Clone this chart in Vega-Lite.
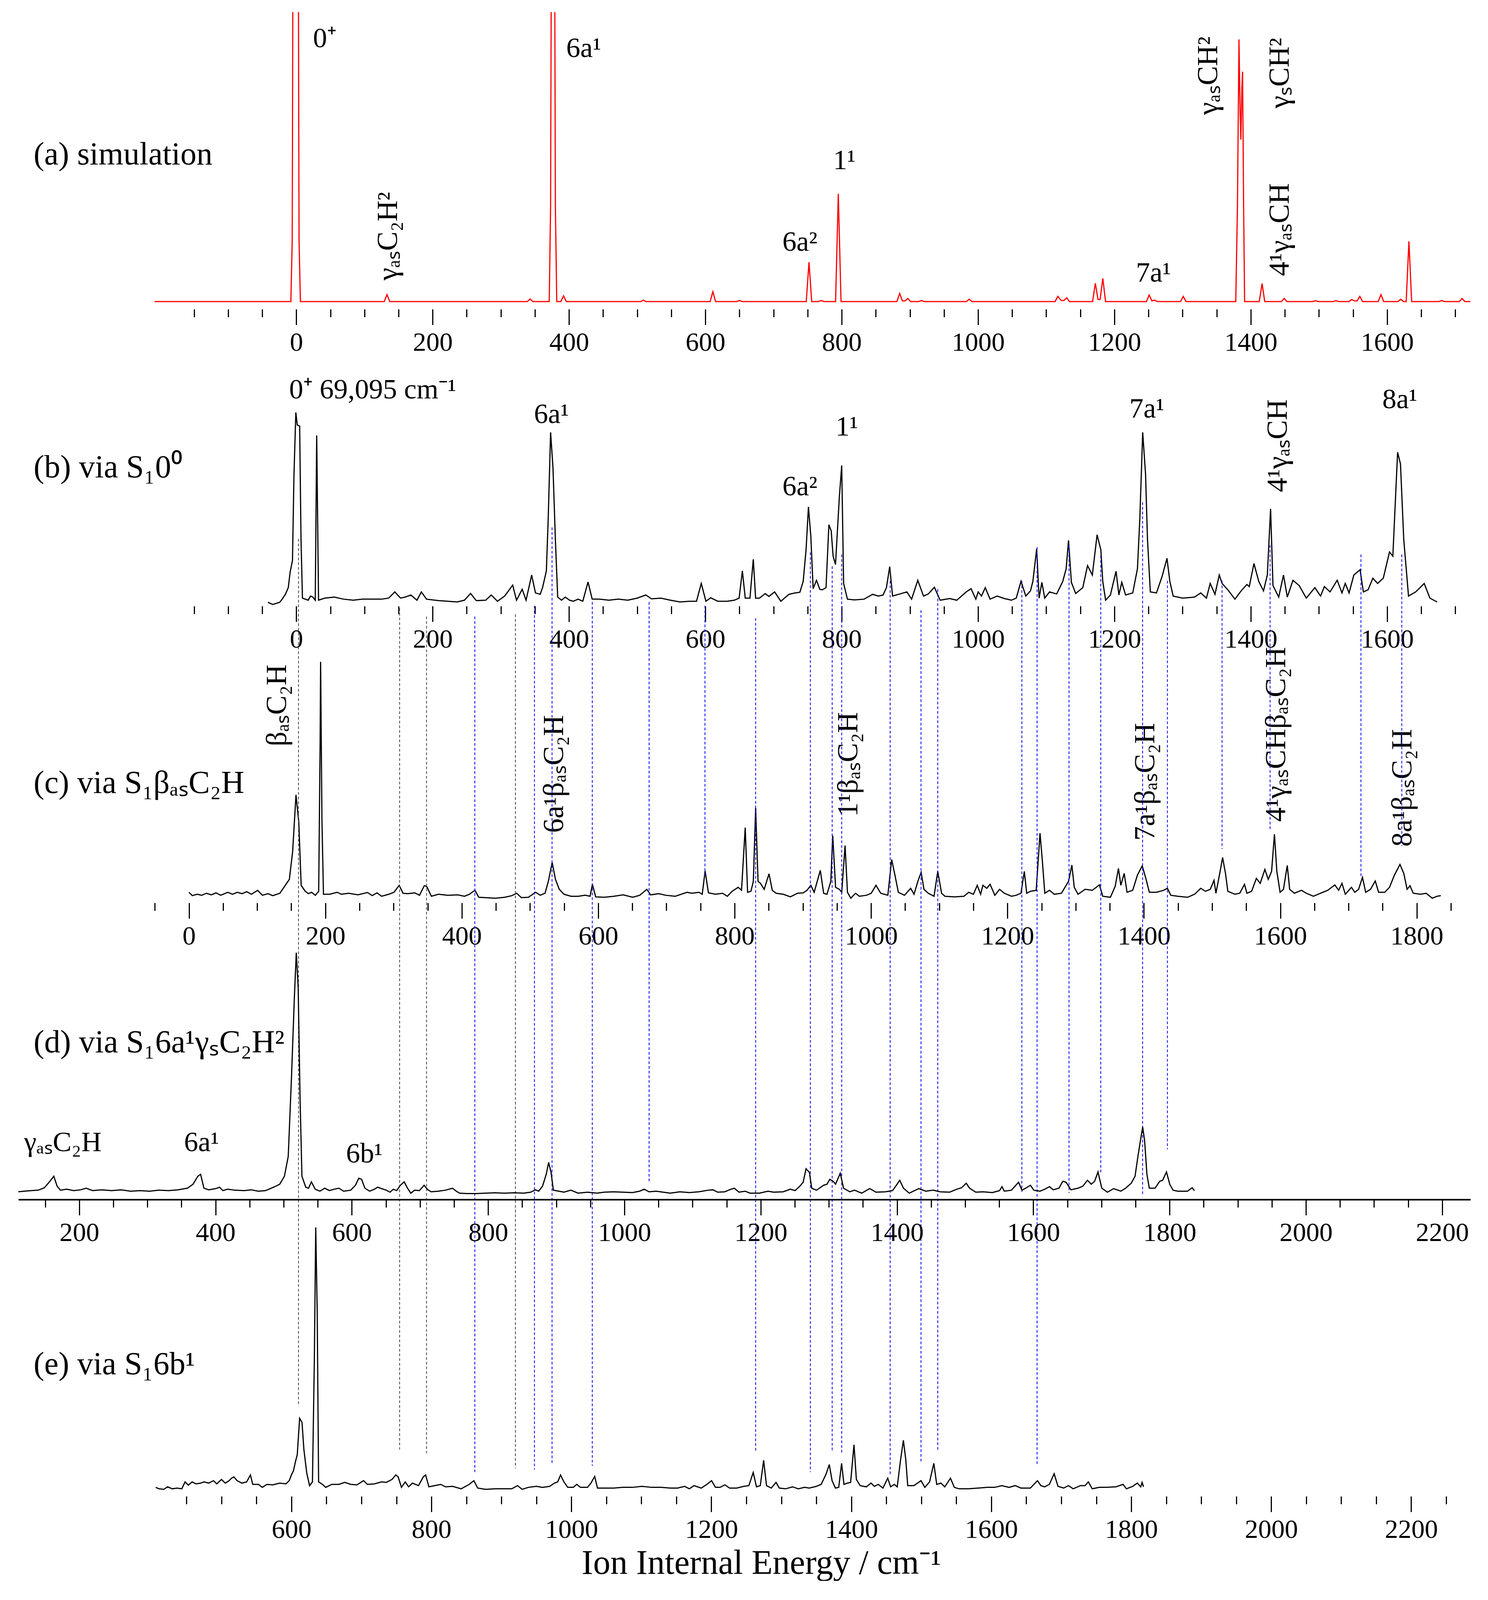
{
  "$schema": "https://vega.github.io/schema/vega-lite/v6.json",
  "padding": {"left": 40, "top": 31, "right": 52, "bottom": 0},
  "background": "white",
  "bounds": "flush",
  "spacing": 88.6,
  "config": {
    "view": {"stroke": null},
    "font": "Liberation Serif",
    "text": {"font": "Liberation Serif", "color": "black"},
    "axis": {
      "labelFont": "Liberation Serif", "labelFontSize": 68, "labelColor": "black", "labelPadding": 12,
      "labelFlush": false, "labelOverlap": false,
      "tickColor": "black", "tickWidth": 3, "domainColor": "black", "domainWidth": 4, "grid": false,
      "titleFont": "Liberation Serif", "titleFontSize": 88, "titleFontWeight": "normal", "titleColor": "black"
    }
  },
  "datasets": {
    "sim": [
      {"e":-208,"h":22},{"e":-8,"h":22},{"e":-6,"h":200},{"e":-5,"h":1000},{"e":-1,"h":3000},{"e":3,"h":1000},{"e":4,"h":200},{"e":6,"h":22},
      {"e":129,"h":22},{"e":133,"h":42},{"e":137,"h":22},{"e":339,"h":22},{"e":343,"h":29.5},{"e":347,"h":22},
      {"e":371,"h":22},{"e":373,"h":300},{"e":374,"h":1000},{"e":376.5,"h":3000},{"e":379,"h":1000},{"e":380,"h":300},{"e":382,"h":22},
      {"e":388,"h":22},{"e":392,"h":38.7},{"e":396,"h":22},{"e":505,"h":22},{"e":509,"h":26},{"e":513,"h":22},
      {"e":607,"h":22},{"e":611,"h":50.4},{"e":615,"h":22},{"e":646,"h":22},{"e":650,"h":25},{"e":654,"h":22},
      {"e":748,"h":22},{"e":752,"h":135.7},{"e":756,"h":22},{"e":766,"h":22},{"e":770,"h":25},{"e":774,"h":22},
      {"e":791,"h":22},{"e":795,"h":333},{"e":799,"h":22},{"e":881,"h":22},{"e":885,"h":45.4},{"e":889,"h":24},{"e":893,"h":24},{"e":897,"h":31},{"e":901,"h":22},
      {"e":913,"h":22},{"e":917,"h":25},{"e":921,"h":22},{"e":983,"h":22},{"e":987,"h":28.7},{"e":991,"h":22},
      {"e":1113,"h":22},{"e":1117,"h":37},{"e":1122,"h":25},{"e":1126,"h":25},{"e":1130,"h":33},{"e":1134,"h":22},
      {"e":1168,"h":22},{"e":1172,"h":74.7},{"e":1176,"h":28},{"e":1179,"h":28},{"e":1183,"h":89},{"e":1187,"h":22},
      {"e":1247,"h":22},{"e":1251,"h":41},{"e":1255,"h":24},{"e":1259,"h":26},{"e":1263,"h":22},{"e":1297,"h":22},{"e":1301,"h":37},{"e":1305,"h":22},
      {"e":1378,"h":22},{"e":1380.5,"h":300},{"e":1382.7,"h":779},{"e":1384.5,"h":560},{"e":1385.5,"h":490},{"e":1387,"h":640},{"e":1388,"h":686},{"e":1389.5,"h":300},{"e":1391,"h":22},
      {"e":1412.5,"h":22},{"e":1416.6,"h":74},{"e":1420.5,"h":22},{"e":1445,"h":22},{"e":1449,"h":31},{"e":1453,"h":22},
      {"e":1491,"h":22},{"e":1495,"h":24.5},{"e":1499,"h":22},{"e":1521,"h":22},{"e":1525,"h":24.5},{"e":1529,"h":22},
      {"e":1544,"h":22},{"e":1548,"h":28},{"e":1552,"h":24},{"e":1556,"h":24},{"e":1560,"h":37},{"e":1564,"h":22},
      {"e":1587,"h":22},{"e":1591,"h":42},{"e":1595,"h":22},{"e":1616,"h":22},{"e":1620,"h":28.7},{"e":1624,"h":22},
      {"e":1628,"h":22},{"e":1632,"h":196},{"e":1636,"h":22},{"e":1676,"h":22},{"e":1680,"h":25},{"e":1684,"h":22},
      {"e":1706,"h":22},{"e":1710,"h":31},{"e":1714,"h":22},{"e":1722,"h":22}
    ],
    "s00": [
      {"e":-41.7,"h":10.9},{"e":-34.7,"h":4.8},{"e":-24.3,"h":10.9},{"e":-20.8,"h":20},{"e":-16,"h":34},{"e":-11.8,"h":53.3},{"e":-9,"h":98.8},{"e":-5.6,"h":132},{"e":-3.5,"h":374.5},{"e":-0.7,"h":559.3},{"e":1.4,"h":523},{"e":4.9,"h":520},{"e":6.9,"h":192.7},{"e":9,"h":23},
      {"e":17.4,"h":17},{"e":20.8,"h":29},{"e":24.3,"h":26},{"e":27.8,"h":17},{"e":29.9,"h":492.7},{"e":32.6,"h":17},{"e":41.7,"h":23},{"e":55.6,"h":26},{"e":69.5,"h":20},{"e":83.4,"h":17},{"e":97.2,"h":20},{"e":111,"h":20},{"e":125,"h":20},{"e":135.4,"h":23},{"e":144.5,"h":41},{"e":152.8,"h":23},{"e":159.8,"h":26},{"e":168,"h":32},{"e":177,"h":17},{"e":183.4,"h":41},{"e":191,"h":20},
      {"e":208.4,"h":15.8},{"e":222.3,"h":14},{"e":236,"h":12},{"e":246.6,"h":17},{"e":255.6,"h":36.4},{"e":264,"h":15.8},{"e":277.8,"h":17},{"e":286,"h":32},{"e":295,"h":14},{"e":305.6,"h":29},{"e":317.4,"h":60.6},{"e":323,"h":17},{"e":331.3,"h":48.5},{"e":337,"h":17},{"e":345.2,"h":89.7},{"e":350.8,"h":38},{"e":357.7,"h":34},{"e":361.2,"h":53.3},{"e":366.8,"h":101.8},{"e":369.5,"h":253.3},{"e":373,"h":501.8},{"e":376.5,"h":398.7},{"e":380,"h":192.7},{"e":383.4,"h":26},{"e":389,"h":17},{"e":394.5,"h":26},
      {"e":400.8,"h":17},{"e":406.3,"h":14},{"e":413.3,"h":20},{"e":420.2,"h":14},{"e":427.9,"h":69.7},{"e":434,"h":20},{"e":444.5,"h":20},{"e":458.4,"h":17},{"e":472.3,"h":20},{"e":486.2,"h":17},{"e":500,"h":23},{"e":512.6,"h":32},{"e":521,"h":21},{"e":534.8,"h":23},{"e":548.7,"h":17},{"e":562.6,"h":12},{"e":576.5,"h":14},{"e":587,"h":14},{"e":594,"h":65.4},{"e":600.8,"h":14},{"e":607.8,"h":24},{"e":618.2,"h":14},{"e":632,"h":14},{"e":642.5,"h":17},{"e":649.5,"h":23},{"e":654.3,"h":101.8},{"e":658.5,"h":23},
      {"e":665.4,"h":23},{"e":670.3,"h":135},{"e":673.7,"h":23},{"e":679.3,"h":23},{"e":687.7,"h":36},{"e":693.3,"h":28},{"e":701.6,"h":41},{"e":710.7,"h":14},{"e":722.6,"h":34},{"e":731.6,"h":38},{"e":738.6,"h":40},{"e":743.5,"h":71.5},{"e":747.7,"h":162.4},{"e":751.2,"h":286.6},{"e":754.7,"h":201.8},{"e":758.1,"h":50.3},{"e":763,"h":74.5},{"e":767.9,"h":48.5},{"e":771.4,"h":47},{"e":777,"h":53.3},{"e":781.2,"h":235},{"e":784.6,"h":217},{"e":787.4,"h":144},{"e":790.9,"h":120},{"e":796.5,"h":314},{"e":800,"h":406},{"e":802.8,"h":65.4},{"e":808.4,"h":20},{"e":818.8,"h":18},{"e":832.8,"h":20},{"e":845.3,"h":34},{"e":853.7,"h":29},{"e":860.7,"h":32},{"e":865.6,"h":53.3},{"e":870.4,"h":114},{"e":874.6,"h":29},{"e":885.1,"h":35},{"e":895.6,"h":41},
      {"e":902.5,"h":20},{"e":911.6,"h":74.5},{"e":920,"h":29},{"e":927,"h":35},{"e":936,"h":54.5},{"e":944.4,"h":17},{"e":958.3,"h":21.8},{"e":968.8,"h":17},{"e":982.7,"h":41},{"e":989.7,"h":50.3},{"e":996.7,"h":20},{"e":1000.2,"h":41},{"e":1005,"h":29},{"e":1010.6,"h":53.3},{"e":1017.6,"h":20},{"e":1028,"h":29},{"e":1038.5,"h":21.8},{"e":1049,"h":17},{"e":1056,"h":23},{"e":1063,"h":71.5},{"e":1070,"h":29},{"e":1076.9,"h":44},{"e":1080.4,"h":71.5},{"e":1086,"h":165.4},{"e":1089.5,"h":23},{"e":1093.6,"h":68.5},{"e":1097.8,"h":23},
      {"e":1104.8,"h":41},{"e":1115.3,"h":35},{"e":1124.3,"h":71.5},{"e":1129.2,"h":108},{"e":1132.7,"h":189.7},{"e":1136.9,"h":68.5},{"e":1143.2,"h":36.4},{"e":1153.6,"h":53.3},{"e":1160.6,"h":117},{"e":1167.6,"h":89.7},{"e":1174.6,"h":206},{"e":1180.1,"h":162.4},{"e":1182.9,"h":71.5},{"e":1187.1,"h":17},{"e":1194.1,"h":32},{"e":1202.4,"h":100.6},{"e":1206.6,"h":32},{"e":1210.8,"h":68.5},{"e":1216.4,"h":32},{"e":1226.9,"h":38},{"e":1233.8,"h":108},{"e":1237.3,"h":253.3},{"e":1241.5,"h":501.8},{"e":1245.7,"h":380.6},{"e":1248.5,"h":192.7},{"e":1252.7,"h":41},{"e":1261.7,"h":38},{"e":1270.1,"h":86.7},{"e":1277.1,"h":138},{"e":1281.3,"h":71.5},{"e":1286.2,"h":29},{"e":1300.1,"h":23},
      {"e":1317.5,"h":26},{"e":1326.6,"h":38},{"e":1335,"h":23},{"e":1340.5,"h":65.4},{"e":1347.5,"h":34},{"e":1353.8,"h":89.7},{"e":1358,"h":65.4},{"e":1366.4,"h":47},{"e":1376.8,"h":20},{"e":1385.9,"h":44},{"e":1394.3,"h":62.4},{"e":1397.8,"h":56.4},{"e":1404.7,"h":123},{"e":1411.7,"h":71.5},{"e":1418.7,"h":44},{"e":1424.3,"h":89.7},{"e":1429.1,"h":280.6},{"e":1432.6,"h":59.4},{"e":1441,"h":26},{"e":1448,"h":89.7},{"e":1453.6,"h":26},{"e":1461.9,"h":74.5},{"e":1471,"h":59.4},{"e":1481.5,"h":23},{"e":1494,"h":53.3},
      {"e":1502.4,"h":29},{"e":1508,"h":56.4},{"e":1516.3,"h":41},{"e":1526.8,"h":74.5},{"e":1533.8,"h":38},{"e":1538.6,"h":65.4},{"e":1544.2,"h":38},{"e":1551.2,"h":89.7},{"e":1560.3,"h":104.8},{"e":1565.2,"h":41},{"e":1572.1,"h":47},{"e":1579.1,"h":80.6},{"e":1586.1,"h":65.4},{"e":1594.4,"h":80.6},{"e":1603.5,"h":156.3},{"e":1608.4,"h":144.2},{"e":1615.4,"h":444.2},{"e":1619.6,"h":410.9},{"e":1624.4,"h":192.7},{"e":1631.4,"h":29},{"e":1641.9,"h":41},{"e":1654.4,"h":65.4},{"e":1662.8,"h":23},{"e":1673.3,"h":12}
    ],
    "sb": [
      {"e":0,"h":30.4},{"e":4.9,"h":20.7},{"e":11.8,"h":24.7},{"e":18.7,"h":21.8},{"e":25.7,"h":27.6},{"e":32.6,"h":23},{"e":39.6,"h":28.7},{"e":46.5,"h":21.8},{"e":56.9,"h":30.4},{"e":63.9,"h":24.7},{"e":70.8,"h":30.4},{"e":77.8,"h":26.4},{"e":84.7,"h":32.1},{"e":91.6,"h":24.7},{"e":100.7,"h":36.2},{"e":107.6,"h":21.8},{"e":115.9,"h":26.4},{"e":122.9,"h":20.7},{"e":133.3,"h":27.6},{"e":141.6,"h":51.7},{"e":147.2,"h":67.7},{"e":152,"h":148},{"e":156.9,"h":311.7},{"e":161,"h":234},{"e":164.5,"h":50.5},{"e":170,"h":34.4},{"e":175,"h":26.4},{"e":179.8,"h":30.4},{"e":185.3,"h":21.8},{"e":190.2,"h":33.3},{"e":192.3,"h":463.8},{"e":193,"h":696},{"e":195,"h":234},{"e":197.2,"h":24.7},
      {"e":206.2,"h":24.7},{"e":217.3,"h":30.4},{"e":223.5,"h":24.7},{"e":234,"h":27.6},{"e":247.8,"h":23},{"e":261.7,"h":29.8},{"e":268.7,"h":20.7},{"e":275.6,"h":28.7},{"e":282.5,"h":18.9},{"e":293,"h":24.7},{"e":300.6,"h":30.4},{"e":308.2,"h":50.5},{"e":313.8,"h":27.6},{"e":320.7,"h":26.4},{"e":331.1,"h":28.7},{"e":338,"h":21.8},{"e":345,"h":49.4},{"e":348.5,"h":47.6},{"e":355.4,"h":18.9},{"e":365.8,"h":24.7},{"e":379.7,"h":21.8},{"e":393.6,"h":23},
      {"e":404,"h":18.9},{"e":411,"h":24.7},{"e":419.3,"h":36.2},{"e":424.8,"h":16},{"e":435.3,"h":15},{"e":449.1,"h":13.2},{"e":463,"h":16},{"e":473.4,"h":20.7},{"e":480.4,"h":27.6},{"e":487.3,"h":15},{"e":497.7,"h":16},{"e":508.2,"h":30.4},{"e":515.1,"h":21.8},{"e":522,"h":27.6},{"e":526.9,"h":62},{"e":532.5,"h":116.5},{"e":537.3,"h":67.7},{"e":542.9,"h":39},{"e":549.8,"h":24.7},{"e":560.2,"h":18.9},{"e":570.6,"h":18.9},{"e":581,"h":21.8},{"e":588,"h":18.9},{"e":591.5,"h":53.4},{"e":596.3,"h":17.2},
      {"e":608.8,"h":16},{"e":622.7,"h":18.9},{"e":636.6,"h":23},{"e":650.5,"h":16},{"e":660.9,"h":21.8},{"e":671.3,"h":39},{"e":676.8,"h":23},{"e":688.6,"h":26.4},{"e":699,"h":21.8},{"e":712.9,"h":18.9},{"e":730.3,"h":30.4},{"e":737.2,"h":27.6},{"e":747.6,"h":30.4},{"e":752.5,"h":24.7},{"e":756.7,"h":91.8},{"e":761.6,"h":28.7},{"e":772,"h":24.7},{"e":782.4,"h":27.6},{"e":789.3,"h":18.9},{"e":796.3,"h":33.3},{"e":805.3,"h":44.8},{"e":810.1,"h":36.2},
      {"e":815.5,"h":217},{"e":819,"h":30.4},{"e":823.9,"h":33.3},{"e":827.4,"h":62},{"e":830.8,"h":274.4},{"e":834.3,"h":62},{"e":837.8,"h":56.3},{"e":843.3,"h":39},{"e":850.4,"h":83.8},{"e":855.2,"h":36.2},{"e":860.8,"h":27.6},{"e":871.3,"h":24.7},{"e":881.7,"h":17.2},{"e":892.2,"h":27.6},{"e":900.5,"h":28.7},{"e":906.1,"h":36.2},{"e":911.7,"h":50.5},{"e":916.6,"h":30.4},{"e":925.6,"h":93.6},{"e":930.5,"h":27.6},{"e":935.4,"h":24.7},{"e":941,"h":62},{"e":943.8,"h":194},{"e":948,"h":44.8},{"e":953.5,"h":39},{"e":957,"h":30.4},{"e":961.9,"h":165.3},{"e":965.4,"h":30.4},{"e":970.3,"h":13.2},{"e":977.2,"h":27.6},{"e":982.8,"h":18.9},{"e":993.3,"h":21.8},
      {"e":1000.2,"h":27.6},{"e":1007.2,"h":50.5},{"e":1014.2,"h":27.6},{"e":1024.6,"h":21.8},{"e":1030.2,"h":125},{"e":1035.1,"h":79.2},{"e":1040,"h":30.4},{"e":1049,"h":21.8},{"e":1058.1,"h":41.9},{"e":1063,"h":24.7},{"e":1068.6,"h":62},{"e":1073.4,"h":87.8},{"e":1077.6,"h":39},{"e":1083.9,"h":27.6},{"e":1092.3,"h":18.9},{"e":1097.8,"h":90.7},{"e":1103.4,"h":27.6},{"e":1108.3,"h":18.9},{"e":1122.2,"h":17.2},{"e":1136.2,"h":18.9},{"e":1143.1,"h":30.4},{"e":1150.1,"h":24.7},{"e":1155.7,"h":50.5},{"e":1160.6,"h":24.7},{"e":1164,"h":50.5},{"e":1169.6,"h":41.9},{"e":1174.5,"h":53.4},{"e":1181.5,"h":21.8},{"e":1188.4,"h":39},{"e":1195.4,"h":27.6},
      {"e":1205.9,"h":18.9},{"e":1212.8,"h":21.8},{"e":1219.8,"h":27.6},{"e":1224.7,"h":90.7},{"e":1228.2,"h":27.6},{"e":1233.8,"h":33.3},{"e":1242.1,"h":36.2},{"e":1247.7,"h":201},{"e":1251.2,"h":119.4},{"e":1254.7,"h":27.6},{"e":1261.6,"h":36.2},{"e":1268.6,"h":24.7},{"e":1279.1,"h":27.6},{"e":1289.5,"h":62},{"e":1294.4,"h":109},{"e":1297.9,"h":44.8},{"e":1303.5,"h":24.7},{"e":1313.9,"h":39},{"e":1324.4,"h":36.2},{"e":1334.8,"h":51.7},{"e":1339.7,"h":18.9},{"e":1350.9,"h":16},{"e":1357.9,"h":47.6},{"e":1362.7,"h":99.3},{"e":1366.2,"h":50.5},{"e":1371.1,"h":85},{"e":1375.3,"h":30.4},{"e":1383.6,"h":36.2},{"e":1390.6,"h":80.4},{"e":1397.6,"h":106.8},
      {"e":1403.2,"h":67.7},{"e":1408,"h":30.4},{"e":1418.5,"h":30.4},{"e":1429,"h":36.2},{"e":1434.5,"h":41.9},{"e":1439.4,"h":21.8},{"e":1449.9,"h":18.9},{"e":1463.8,"h":16},{"e":1474.3,"h":24.7},{"e":1483.3,"h":41.9},{"e":1490.3,"h":33.3},{"e":1497.3,"h":39},{"e":1502.8,"h":64.9},{"e":1505.6,"h":27.6},{"e":1511.2,"h":85},{"e":1515.4,"h":130.9},{"e":1519.6,"h":85},{"e":1523.1,"h":33.3},{"e":1533.5,"h":24.7},{"e":1540.5,"h":27.6},{"e":1547.5,"h":53.4},{"e":1551,"h":27.6},{"e":1557.9,"h":33.3},{"e":1564.9,"h":70.6},{"e":1570.5,"h":56.3},{"e":1577.4,"h":96.4},{"e":1582.3,"h":67.7},{"e":1587.2,"h":90.7},{"e":1591.4,"h":198},{"e":1594.9,"h":90.7},{"e":1599.7,"h":30.4},
      {"e":1604.6,"h":39},{"e":1610.2,"h":107.9},{"e":1613.7,"h":39},{"e":1620.6,"h":27.6},{"e":1631.1,"h":36.2},{"e":1638.1,"h":27.6},{"e":1648.5,"h":18.9},{"e":1659,"h":27.6},{"e":1669.5,"h":36.2},{"e":1679.9,"h":51.7},{"e":1685.5,"h":36.2},{"e":1690.4,"h":56.3},{"e":1695.3,"h":24.7},{"e":1704.3,"h":44.8},{"e":1709.2,"h":30.4},{"e":1714.8,"h":39},{"e":1720.4,"h":73.5},{"e":1725.2,"h":30.4},{"e":1732.2,"h":39},{"e":1739.2,"h":63.1},{"e":1744.1,"h":30.4},{"e":1753.1,"h":30.4},{"e":1760.1,"h":44.8},{"e":1767.1,"h":79.2},{"e":1775.4,"h":110.8},{"e":1781,"h":85},{"e":1785.9,"h":39},{"e":1790.1,"h":49.4},{"e":1794.9,"h":27.6},{"e":1805.4,"h":24.7},{"e":1813.8,"h":27.6},{"e":1822.8,"h":13.2},{"e":1829.8,"h":18.9},{"e":1835.3,"h":20.7}
    ],
    "sd": [
      {"e":110.6,"h":22.4},{"e":119,"h":24.1},{"e":129.4,"h":25.8},{"e":139.8,"h":27},{"e":148.8,"h":33.9},{"e":155.8,"h":49.9},{"e":162.7,"h":67.2},{"e":167.6,"h":38.5},{"e":172.5,"h":27},{"e":181.5,"h":29.8},{"e":191.9,"h":25.8},{"e":202.3,"h":28.1},{"e":210,"h":32.7},{"e":219.7,"h":25.8},{"e":233.6,"h":28.1},{"e":247.5,"h":25.8},{"e":261.4,"h":28.1},{"e":275.3,"h":24.1},{"e":289.2,"h":25.8},{"e":303.1,"h":24.1},{"e":317,"h":27},{"e":330.9,"h":25.8},{"e":344.8,"h":28.1},{"e":358.7,"h":32.7},{"e":367,"h":44.2},{"e":374,"h":67.2},{"e":378.1,"h":72.9},{"e":383,"h":32.7},{"e":390,"h":28.1},
      {"e":400.4,"h":31.6},{"e":405.9,"h":35.6},{"e":410.8,"h":25.8},{"e":417.7,"h":29.8},{"e":428.1,"h":27},{"e":442,"h":25.8},{"e":452.5,"h":28.1},{"e":462.9,"h":24.1},{"e":473.3,"h":25.8},{"e":480.3,"h":31.6},{"e":487.2,"h":37.3},{"e":494.2,"h":44.2},{"e":501.1,"h":67.2},{"e":506.7,"h":124.6},{"e":511.5,"h":354.2},{"e":515.7,"h":583.8},{"e":518.5,"h":712.9},{"e":521.3,"h":612.5},{"e":524,"h":296.8},{"e":526.8,"h":67.2},{"e":532.4,"h":35.6},{"e":536.5,"h":32.7},{"e":540.7,"h":51.1},{"e":546.3,"h":29.8},{"e":553.2,"h":24.1},{"e":560.2,"h":32.7},{"e":567.1,"h":25.8},{"e":574.1,"h":29.8},{"e":581,"h":32.7},{"e":588,"h":24.1},{"e":598.4,"h":27},
      {"e":605.3,"h":41.3},{"e":610.2,"h":61.4},{"e":614.3,"h":58.5},{"e":619.2,"h":32.7},{"e":626.2,"h":24.1},{"e":633.1,"h":29.8},{"e":638,"h":35.6},{"e":643.5,"h":31.6},{"e":650.5,"h":27},{"e":656,"h":21.2},{"e":660.9,"h":29.8},{"e":665.8,"h":25.8},{"e":671.3,"h":41.3},{"e":676.9,"h":51.1},{"e":681.7,"h":32.7},{"e":686.6,"h":18.4},{"e":692.2,"h":27},{"e":699.1,"h":25.8},{"e":706.1,"h":41.3},{"e":711.6,"h":28.1},{"e":716.5,"h":22.4},{"e":726.9,"h":24.1},{"e":737.3,"h":27},{"e":747.8,"h":32.7},{"e":753.3,"h":24.1},{"e":758.2,"h":18.4},{"e":768.6,"h":17.2},{"e":782.5,"h":17.2},{"e":796.4,"h":18.4},
      {"e":810.3,"h":19.5},{"e":824.2,"h":18.4},{"e":838.1,"h":19.5},{"e":852,"h":18.4},{"e":862.4,"h":21.2},{"e":869.3,"h":28.1},{"e":874.2,"h":24.1},{"e":879.8,"h":38.5},{"e":885.3,"h":72.9},{"e":888.8,"h":107.3},{"e":892.3,"h":78.6},{"e":895.8,"h":27},{"e":904.1,"h":24.1},{"e":911.1,"h":21.2},{"e":921.5,"h":27},{"e":931.9,"h":18.4},{"e":945.8,"h":21.2},{"e":959.7,"h":18.4},{"e":970.1,"h":21.2},{"e":984,"h":22.4},{"e":997.9,"h":21.2},
      {"e":1011.8,"h":20.1},{"e":1022.2,"h":24.1},{"e":1029.2,"h":29.8},{"e":1036.1,"h":22.4},{"e":1046.5,"h":24.1},{"e":1057,"h":21.2},{"e":1067.4,"h":18.4},{"e":1081.3,"h":22.4},{"e":1095.2,"h":20.1},{"e":1109.1,"h":22.4},{"e":1123,"h":27},{"e":1129.9,"h":28.1},{"e":1136.9,"h":21.2},{"e":1147.3,"h":22.4},{"e":1154.2,"h":28.1},{"e":1161.2,"h":32.7},{"e":1168.1,"h":21.2},{"e":1177.2,"h":24.1},{"e":1184.2,"h":18.4},{"e":1198.1,"h":18.4},
      {"e":1210.7,"h":24.1},{"e":1219.1,"h":21.2},{"e":1233,"h":22.4},{"e":1243.5,"h":29.8},{"e":1250.5,"h":25.8},{"e":1257.4,"h":38.5},{"e":1262.3,"h":49.9},{"e":1266.5,"h":89},{"e":1271.4,"h":78.6},{"e":1274.9,"h":32.7},{"e":1281.9,"h":27},{"e":1292.3,"h":41.3},{"e":1297.2,"h":44.2},{"e":1301.4,"h":58.5},{"e":1306.3,"h":52.8},{"e":1309.8,"h":44.2},{"e":1316.7,"h":75.8},{"e":1321.6,"h":32.7},{"e":1330.7,"h":22.4},{"e":1337.7,"h":27},{"e":1348.1,"h":18.4},{"e":1360,"h":31.6},{"e":1369.1,"h":21.2},{"e":1383,"h":22.4},{"e":1393.5,"h":25.8},{"e":1399.1,"h":41.3},
      {"e":1404,"h":55.7},{"e":1409.5,"h":32.7},{"e":1417.9,"h":18.4},{"e":1431.9,"h":31.6},{"e":1442.3,"h":24.1},{"e":1452.8,"h":27},{"e":1463.3,"h":22.4},{"e":1477.2,"h":21.2},{"e":1487.7,"h":29.8},{"e":1494.7,"h":33.9},{"e":1501.6,"h":47.1},{"e":1506.5,"h":32.7},{"e":1515.6,"h":21.2},{"e":1526.1,"h":22.4},{"e":1540,"h":20.1},{"e":1550.5,"h":25.8},{"e":1554,"h":37.3},{"e":1557.5,"h":24.1},{"e":1567.9,"h":27},{"e":1578.4,"h":49.9},{"e":1583.3,"h":27},{"e":1588.8,"h":32.7},{"e":1595.8,"h":41.3},
      {"e":1600.7,"h":27},{"e":1609.8,"h":24.1},{"e":1616.8,"h":29.8},{"e":1623.7,"h":37.3},{"e":1629.3,"h":28.1},{"e":1637.7,"h":32.7},{"e":1643.3,"h":52.8},{"e":1648.1,"h":49.9},{"e":1655.1,"h":28.1},{"e":1665.6,"h":32.7},{"e":1672.6,"h":38.5},{"e":1679.5,"h":55.7},{"e":1685.1,"h":44.2},{"e":1690,"h":52.8},{"e":1694.9,"h":79.8},{"e":1700.5,"h":32.7},{"e":1708.8,"h":21.2},{"e":1717.9,"h":31.6},{"e":1728.4,"h":24.1},{"e":1735.4,"h":32.7},{"e":1743.7,"h":47.1},{"e":1749.3,"h":67.2},{"e":1753.5,"h":124.6},{"e":1757.7,"h":176.2},{"e":1760.5,"h":209.5},{"e":1763.3,"h":170.5},{"e":1766.7,"h":72.9},{"e":1770.2,"h":32.7},{"e":1778.6,"h":32.7},{"e":1785.6,"h":52.8},{"e":1789.8,"h":55.7},{"e":1795.4,"h":79.8},
      {"e":1800.2,"h":44.2},{"e":1805.1,"h":27},{"e":1812.1,"h":24.1},{"e":1826.1,"h":24.1},{"e":1833,"h":33.9},{"e":1836.5,"h":25.8}
    ],
    "se": [
      {"e":406,"h":25.7},{"e":410.8,"h":21.5},{"e":417.5,"h":20},{"e":423,"h":27.2},{"e":429.7,"h":21.5},{"e":436.5,"h":23.6},{"e":443.3,"h":21.5},{"e":448,"h":41.5},{"e":452.7,"h":32.2},{"e":458.1,"h":41.5},{"e":463.5,"h":35.8},{"e":470.3,"h":37.9},{"e":475,"h":41.5},{"e":481.8,"h":37.9},{"e":488.6,"h":45},{"e":493.3,"h":35.8},{"e":500,"h":48.6},{"e":505.5,"h":37.9},{"e":510.9,"h":45},{"e":514.3,"h":52.2},{"e":517.7,"h":55.8},{"e":522.4,"h":45},{"e":529.2,"h":37.9},{"e":536,"h":41.5},{"e":541.4,"h":61.5},{"e":544.7,"h":34.3},{"e":552.9,"h":34.3},{"e":558.3,"h":25.7},{"e":565,"h":34.3},{"e":573.2,"h":32.9},{"e":583.3,"h":37.9},{"e":592.1,"h":35.8},{"e":596.8,"h":45},
      {"e":600.2,"h":62.9},{"e":602.9,"h":73.6},{"e":605.6,"h":98.7},{"e":608.3,"h":120.1},{"e":611.7,"h":225.2},{"e":615.1,"h":213},{"e":617.8,"h":134.4},{"e":621.9,"h":66.5},{"e":625.9,"h":30.7},{"e":630,"h":41.5},{"e":632.7,"h":391.8},{"e":634.7,"h":776.5},{"e":636.8,"h":534.8},{"e":638.8,"h":41.5},{"e":644.2,"h":34.3},{"e":648.9,"h":25.7},{"e":657.7,"h":34.3},{"e":667.9,"h":34.3},{"e":676,"h":40},{"e":684.8,"h":34.3},{"e":693.6,"h":32.9},{"e":703.1,"h":45},{"e":708.5,"h":34.3},{"e":718.6,"h":35.8},{"e":728.8,"h":41.5},{"e":735.5,"h":40},{"e":743.7,"h":48.6},{"e":749.1,"h":61.5},{"e":752.5,"h":55.8},{"e":757.2,"h":25.7},{"e":762.6,"h":41.5},{"e":767.4,"h":27.2},{"e":772.8,"h":37.9},{"e":781.6,"h":30.7},{"e":788.3,"h":55.8},{"e":791.7,"h":61.5},{"e":796.4,"h":27.2},
      {"e":804.6,"h":30.7},{"e":813.4,"h":34.3},{"e":820.1,"h":27.2},{"e":830.3,"h":28.6},{"e":842.5,"h":21.5},{"e":854,"h":34.3},{"e":860.7,"h":45},{"e":866.1,"h":23.6},{"e":877.6,"h":20},{"e":891.2,"h":21.5},{"e":904.7,"h":21.5},{"e":914.8,"h":21.5},{"e":923,"h":30.7},{"e":929.7,"h":20},{"e":938.5,"h":25.7},{"e":950,"h":28.6},{"e":958.8,"h":25.7},{"e":969,"h":28.6},{"e":975.7,"h":37.9},{"e":980.5,"h":41.5},{"e":984.5,"h":61.5},{"e":989.3,"h":41.5},{"e":994.7,"h":25.7},
      {"e":1002.8,"h":25.7},{"e":1007.6,"h":34.3},{"e":1013,"h":25.7},{"e":1023.1,"h":25.7},{"e":1027.9,"h":37.9},{"e":1033.3,"h":57.2},{"e":1037.3,"h":23.6},{"e":1046.8,"h":23.6},{"e":1060.3,"h":23.6},{"e":1073.8,"h":25.7},{"e":1087.4,"h":25.7},{"e":1100.9,"h":28.6},{"e":1114.4,"h":25.7},{"e":1128,"h":25.7},{"e":1141.5,"h":23.6},{"e":1151.7,"h":23.6},{"e":1161.8,"h":28.6},{"e":1168.6,"h":21.5},{"e":1175.3,"h":30.7},{"e":1185.5,"h":23.6},{"e":1193.6,"h":34.3},
      {"e":1200.3,"h":45},{"e":1205.8,"h":25.7},{"e":1212.5,"h":25.7},{"e":1219.3,"h":32.9},{"e":1226.1,"h":23.6},{"e":1236.2,"h":23.6},{"e":1246.4,"h":28.6},{"e":1253.6,"h":30.7},{"e":1259.8,"h":68.6},{"e":1264.5,"h":27.2},{"e":1269.9,"h":30.7},{"e":1274.7,"h":103.7},{"e":1278.8,"h":30.7},{"e":1285.6,"h":23.6},{"e":1292.4,"h":40},{"e":1297.1,"h":23.6},{"e":1306,"h":21.5},{"e":1316.1,"h":27.2},{"e":1324.3,"h":21.5},{"e":1333.1,"h":25.7},{"e":1339.9,"h":23.6},{"e":1350.1,"h":28.6},{"e":1356.9,"h":34.3},{"e":1360.3,"h":48.6},{"e":1363.7,"h":62.9},{"e":1368.5,"h":91.5},{"e":1372.5,"h":45},{"e":1377.3,"h":23.6},{"e":1382,"h":25.7},{"e":1386.1,"h":95.1},{"e":1389.5,"h":34.3},{"e":1394.3,"h":37.9},{"e":1399,"h":40},
      {"e":1403.8,"h":148.7},{"e":1407.2,"h":48.6},{"e":1412.6,"h":30.7},{"e":1421.4,"h":27.2},{"e":1428.2,"h":37.9},{"e":1433,"h":28.6},{"e":1438.4,"h":34.3},{"e":1445.2,"h":23.6},{"e":1452,"h":52.2},{"e":1456.1,"h":27.2},{"e":1461.5,"h":34.3},{"e":1465.6,"h":27.2},{"e":1470.4,"h":105.8},{"e":1474.4,"h":161.6},{"e":1477.8,"h":105.8},{"e":1480.6,"h":30.7},{"e":1489.4,"h":30.7},{"e":1499.6,"h":45},{"e":1505,"h":25.7},{"e":1511.8,"h":41.5},{"e":1517.9,"h":95.1},{"e":1522,"h":34.3},{"e":1528.1,"h":37.9},{"e":1533.5,"h":27.2},{"e":1541.7,"h":52.2},{"e":1547.1,"h":25.7},{"e":1553.9,"h":21.5},{"e":1567.5,"h":21.5},{"e":1581.1,"h":23.6},{"e":1594.7,"h":25.7},
      {"e":1604.9,"h":25.7},{"e":1615.1,"h":30.7},{"e":1625.3,"h":25.7},{"e":1634.1,"h":30.7},{"e":1642.3,"h":23.6},{"e":1655.8,"h":23.6},{"e":1666,"h":45},{"e":1670.8,"h":30.7},{"e":1676.2,"h":27.2},{"e":1683,"h":34.3},{"e":1689.8,"h":65.1},{"e":1695.3,"h":28.6},{"e":1703.4,"h":23.6},{"e":1710.2,"h":30.7},{"e":1717,"h":21.5},{"e":1727.2,"h":30.7},{"e":1734,"h":30.7},{"e":1738.7,"h":41.5},{"e":1744.2,"h":21.5},{"e":1754.4,"h":25.7},{"e":1764.5,"h":25.7},{"e":1778.1,"h":27.2},{"e":1788.3,"h":34.3},{"e":1793.1,"h":21.5},{"e":1801.9,"h":28.6},{"e":1808.7,"h":37.9},{"e":1813.5,"h":27.2},{"e":1815.5,"h":40},{"e":1817.5,"h":27.2}
    ],
    "labels": [
      {"p":"a","k":"panel","e":-385.4,"h":418,"t":"(a) simulation"},
      {"p":"a","k":"peak","e":24.5,"h":756,"t":"0⁺"},
      {"p":"a","k":"peak","e":395.9,"h":728,"t":"6a¹"},
      {"p":"a","k":"peak","e":713,"h":169,"t":"6a²"},
      {"p":"a","k":"peak","e":787.4,"h":405,"t":"1¹"},
      {"p":"a","k":"peak","e":1231.6,"h":80,"t":"7a¹"},
      {"p":"a","k":"rot","e":135,"h":83,"t":"γₐₛC₂H²"},
      {"p":"a","k":"rot","e":1338,"h":561,"t":"γₐₛCH²"},
      {"p":"a","k":"rot","e":1443,"h":580,"t":"γₛCH²"},
      {"p":"a","k":"rot","e":1443,"h":95.5,"t":"4¹γₐₛCH"},
      {"p":"b","k":"panel","e":-385.4,"h":372,"t":"(b) via S₁0⁰"},
      {"p":"b","k":"peak","e":-10.5,"h":600,"t":"0⁺ 69,095 cm⁻¹"},
      {"p":"b","k":"peak","e":348.6,"h":529,"t":"6a¹"},
      {"p":"b","k":"peak","e":713,"h":320,"t":"6a²"},
      {"p":"b","k":"peak","e":791,"h":493,"t":"1¹"},
      {"p":"b","k":"peak","e":1222,"h":544.5,"t":"7a¹"},
      {"p":"b","k":"peak","e":1593,"h":572,"t":"8a¹"},
      {"p":"b","k":"rot","e":1440,"h":329,"t":"4¹γₐₛCH"},
      {"p":"c","k":"panel","e":-227.7,"h":317,"t":"(c) via S₁βₐₛC₂H"},
      {"p":"c","k":"rot","e":129.7,"h":452,"t":"βₐₛC₂H"},
      {"p":"c","k":"rot","e":535.7,"h":202,"t":"6a¹βₐₛC₂H"},
      {"p":"c","k":"rot","e":967.3,"h":248,"t":"1¹βₐₛC₂H"},
      {"p":"c","k":"rot","e":1402.4,"h":179.5,"t":"7a¹βₐₛC₂H"},
      {"p":"c","k":"rot","e":1594.8,"h":234,"t":"4¹γₐₛCHβₐₛC₂H"},
      {"p":"c","k":"rot","e":1779.6,"h":162,"t":"8a¹βₐₛC₂H"},
      {"p":"d","k":"panel","e":133,"h":425.5,"t":"(d) via S₁6a¹γₛC₂H²"},
      {"p":"d","k":"peak","e":119,"h":140,"t":"γₐₛC₂H"},
      {"p":"d","k":"peak","e":353.8,"h":140,"t":"6a¹"},
      {"p":"d","k":"peak","e":591.5,"h":107,"t":"6b¹"},
      {"p":"e","k":"panel","e":231.6,"h":353,"t":"(e) via S₁6b¹"}
    ],
    "guides": [
      {"e":160.6,"top":1051,"bot":-1454,"kind":"other"},
      {"e":308.8,"top":851,"bot":-1579,"kind":"other"},
      {"e":348.3,"top":827,"bot":-1590,"kind":"other"},
      {"e":419.1,"top":827,"bot":-1644,"kind":"assigned"},
      {"e":478.6,"top":833,"bot":-1633,"kind":"other"},
      {"e":506.5,"top":858,"bot":-1637,"kind":"assigned"},
      {"e":532.3,"top":1084,"bot":-1622,"kind":"assigned"},
      {"e":591.3,"top":869,"bot":-1626,"kind":"assigned"},
      {"e":674.6,"top":869,"bot":-809,"kind":"assigned"},
      {"e":756.5,"top":858,"bot":77,"kind":"assigned"},
      {"e":830.8,"top":822,"bot":-1583,"kind":"assigned"},
      {"e":911,"top":1012,"bot":-1644,"kind":"assigned"},
      {"e":943,"top":972,"bot":-1585,"kind":"assigned"},
      {"e":957,"top":1006,"bot":-1592,"kind":"assigned"},
      {"e":1028,"top":930,"bot":-1651,"kind":"assigned"},
      {"e":1073.2,"top":845,"bot":-1617,"kind":"assigned"},
      {"e":1097.8,"top":906,"bot":-1585,"kind":"assigned"},
      {"e":1221.1,"top":930,"bot":-835,"kind":"assigned"},
      {"e":1243.4,"top":1027,"bot":-1626,"kind":"assigned"},
      {"e":1290.2,"top":1033,"bot":-838,"kind":"assigned"},
      {"e":1336.8,"top":1003,"bot":-783,"kind":"assigned"},
      {"e":1398.1,"top":1157,"bot":-847,"kind":"assigned"},
      {"e":1434.5,"top":930,"bot":-712,"kind":"assigned"},
      {"e":1514.6,"top":930,"bot":155.5,"kind":"assigned"},
      {"e":1585,"top":1033,"bot":207,"kind":"assigned"},
      {"e":1718.2,"top":1006,"bot":72,"kind":"assigned"},
      {"e":1778.1,"top":1006,"bot":164,"kind":"assigned"}
    ]
  },
  "vconcat": [
    {
      "width": 3716, "height": 760.5,
      "encoding": {
        "x": {"field": "e", "type": "quantitative", "scale": {"domain": [-407.7, 1722.2], "nice": false, "zero": false},
          "axis": {"title": null, "domain": false, "format": "d",
            "values": [-150,-100,-50,0,50,100,150,200,250,300,350,400,450,500,550,600,650,700,750,800,850,900,950,1000,1050,1100,1150,1200,1250,1300,1350,1400,1450,1500,1550,1600,1650,1700],
            "labelExpr": "datum.value % 200 === 0 ? datum.label : ''",
            "tickSize": {"condition": {"test": "datum.value % 200 === 0", "value": 40}, "value": 20}}},
        "y": {"field": "h", "type": "quantitative", "scale": {"domain": [0, 858], "nice": false, "zero": false}, "axis": null}
      },
      "layer": [
        {"data": {"name": "sim"}, "mark": {"type": "line", "color": "#ff0000", "strokeWidth": 3, "clip": true}},
        {"data": {"values": [{}]}, "mark": {"type": "rule", "color": "black", "strokeWidth": 4},
          "encoding": {"x": {"datum": -208.2}, "x2": {"datum": 1722.2}, "y": {"datum": 0}}},
        {"data": {"name": "labels"}, "transform": [{"filter": "datum.p === 'a' && datum.k === 'panel'"}],
          "mark": {"type": "text", "align": "left", "baseline": "alphabetic", "fontSize": 82}, "encoding": {"text": {"field": "t"}}},
        {"data": {"name": "labels"}, "transform": [{"filter": "datum.p === 'a' && datum.k === 'peak'"}],
          "mark": {"type": "text", "align": "left", "baseline": "alphabetic", "fontSize": 72}, "encoding": {"text": {"field": "t"}}},
        {"data": {"name": "labels"}, "transform": [{"filter": "datum.p === 'a' && datum.k === 'rot'"}],
          "mark": {"type": "text", "align": "left", "baseline": "middle", "angle": 270, "fontSize": 74}, "encoding": {"text": {"field": "t"}}}
      ]
    },
    {
      "width": 3716, "height": 671,
      "encoding": {
        "x": {"field": "e", "type": "quantitative", "scale": {"domain": [-407.7, 1722.2], "nice": false, "zero": false},
          "axis": {"title": null, "domain": false, "format": "d",
            "values": [-150,-100,-50,0,50,100,150,200,250,300,350,400,450,500,550,600,650,700,750,800,850,900,950,1000,1050,1100,1150,1200,1250,1300,1350,1400,1450,1500,1550,1600,1650,1700],
            "labelExpr": "datum.value % 200 === 0 ? datum.label : ''",
            "tickSize": {"condition": {"test": "datum.value % 200 === 0", "value": 40}, "value": 20}}},
        "y": {"field": "h", "type": "quantitative", "scale": {"domain": [0, 757], "nice": false, "zero": false}, "axis": null}
      },
      "layer": [
        {"data": {"name": "s00"}, "mark": {"type": "line", "color": "black", "strokeWidth": 3}},
        {"data": {"values": [{}]}, "mark": {"type": "rule", "color": "black", "strokeWidth": 4},
          "encoding": {"x": {"datum": -208.2}, "x2": {"datum": 1722.2}, "y": {"datum": 0}}},
        {"data": {"name": "labels"}, "transform": [{"filter": "datum.p === 'b' && datum.k === 'panel'"}],
          "mark": {"type": "text", "align": "left", "baseline": "alphabetic", "fontSize": 82}, "encoding": {"text": {"field": "t"}}},
        {"data": {"name": "labels"}, "transform": [{"filter": "datum.p === 'b' && datum.k === 'peak'"}],
          "mark": {"type": "text", "align": "left", "baseline": "alphabetic", "fontSize": 72}, "encoding": {"text": {"field": "t"}}},
        {"data": {"name": "labels"}, "transform": [{"filter": "datum.p === 'b' && datum.k === 'rot'"}],
          "mark": {"type": "text", "align": "left", "baseline": "middle", "angle": 270, "fontSize": 74}, "encoding": {"text": {"field": "t"}}}
      ]
    },
    {
      "width": 3716, "height": 671,
      "encoding": {
        "x": {"field": "e", "type": "quantitative", "scale": {"domain": [-250.1, 1878.7], "nice": false, "zero": false},
          "axis": {"title": null, "domain": false, "format": "d",
            "values": [-50,0,50,100,150,200,250,300,350,400,450,500,550,600,650,700,750,800,850,900,950,1000,1050,1100,1150,1200,1250,1300,1350,1400,1450,1500,1550,1600,1650,1700,1750,1800,1850],
            "labelExpr": "datum.value % 200 === 0 ? datum.label : ''",
            "tickSize": {"condition": {"test": "datum.value % 200 === 0", "value": 40}, "value": 20}}},
        "y": {"field": "h", "type": "quantitative", "scale": {"domain": [0, 757], "nice": false, "zero": false}, "axis": null}
      },
      "layer": [
        {"data": {"name": "sb"}, "mark": {"type": "line", "color": "black", "strokeWidth": 3}},
        {"data": {"values": [{}]}, "mark": {"type": "rule", "color": "black", "strokeWidth": 4},
          "encoding": {"x": {"datum": -50.7}, "x2": {"datum": 1878.7}, "y": {"datum": 0}}},
        {"data": {"name": "labels"}, "transform": [{"filter": "datum.p === 'c' && datum.k === 'panel'"}],
          "mark": {"type": "text", "align": "left", "baseline": "alphabetic", "fontSize": 82}, "encoding": {"text": {"field": "t"}}},
        {"data": {"name": "labels"}, "transform": [{"filter": "datum.p === 'c' && datum.k === 'rot'"}],
          "mark": {"type": "text", "align": "left", "baseline": "middle", "angle": 270, "fontSize": 74}, "encoding": {"text": {"field": "t"}}},
        {"data": {"name": "guides"},
          "mark": {"type": "rule", "strokeWidth": 2, "strokeDash": [7, 5]},
          "encoding": {
            "y": {"field": "top", "type": "quantitative", "scale": {"domain": [0, 757], "nice": false, "zero": false}, "axis": null},
            "y2": {"field": "bot"},
            "color": {"field": "kind", "type": "nominal", "scale": {"domain": ["assigned", "other"], "range": ["#0000ff", "#444444"]}, "legend": null}
          }}
      ]
    },
    {
      "width": 3716, "height": 671,
      "encoding": {
        "x": {"field": "e", "type": "quantitative", "scale": {"domain": [110.7, 2241.4], "nice": false, "zero": false},
          "axis": {"title": null, "format": "d",
            "values": [150,200,250,300,350,400,450,500,550,600,650,700,750,800,850,900,950,1000,1050,1100,1150,1200,1250,1300,1350,1400,1450,1500,1550,1600,1650,1700,1750,1800,1850,1900,1950,2000,2050,2100,2150,2200],
            "labelExpr": "datum.value % 200 === 0 ? datum.label : ''",
            "tickSize": {"condition": {"test": "datum.value % 200 === 0", "value": 40}, "value": 20}}},
        "y": {"field": "h", "type": "quantitative", "scale": {"domain": [0, 757], "nice": false, "zero": false}, "axis": null}
      },
      "layer": [
        {"data": {"name": "sd"}, "mark": {"type": "line", "color": "black", "strokeWidth": 3}},
        {"data": {"name": "labels"}, "transform": [{"filter": "datum.p === 'd' && datum.k === 'panel'"}],
          "mark": {"type": "text", "align": "left", "baseline": "alphabetic", "fontSize": 82}, "encoding": {"text": {"field": "t"}}},
        {"data": {"name": "labels"}, "transform": [{"filter": "datum.p === 'd' && datum.k === 'peak'"}],
          "mark": {"type": "text", "align": "left", "baseline": "alphabetic", "fontSize": 72}, "encoding": {"text": {"field": "t"}}}
      ]
    },
    {
      "width": 3716, "height": 671,
      "encoding": {
        "x": {"field": "e", "type": "quantitative", "scale": {"domain": [209.8, 2284.6], "nice": false, "zero": false},
          "axis": {"title": "Ion Internal Energy / cm⁻¹", "titleX": 1901, "titlePadding": 8, "domain": false, "format": "d",
            "values": [450,500,550,600,650,700,750,800,850,900,950,1000,1050,1100,1150,1200,1250,1300,1350,1400,1450,1500,1550,1600,1650,1700,1750,1800,1850,1900,1950,2000,2050,2100,2150,2200,2250],
            "labelExpr": "datum.value % 200 === 0 ? datum.label : ''",
            "tickSize": {"condition": {"test": "datum.value % 200 === 0", "value": 40}, "value": 20}}},
        "y": {"field": "h", "type": "quantitative", "scale": {"domain": [0, 757], "nice": false, "zero": false}, "axis": null}
      },
      "layer": [
        {"data": {"name": "se"}, "mark": {"type": "line", "color": "black", "strokeWidth": 3}},
        {"data": {"values": [{}]}, "mark": {"type": "rule", "color": "black", "strokeWidth": 4},
          "encoding": {"x": {"datum": 404.2}, "x2": {"datum": 2284.6}, "y": {"datum": 0}}},
        {"data": {"name": "labels"}, "transform": [{"filter": "datum.p === 'e' && datum.k === 'panel'"}],
          "mark": {"type": "text", "align": "left", "baseline": "alphabetic", "fontSize": 82}, "encoding": {"text": {"field": "t"}}}
      ]
    }
  ]
}
